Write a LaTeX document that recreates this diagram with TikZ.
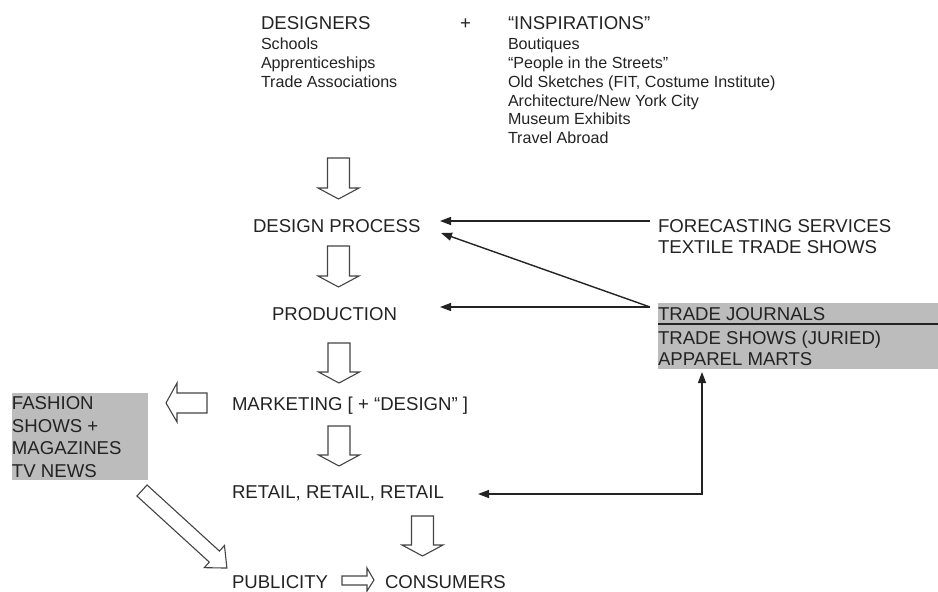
\documentclass[tikz,border=0pt]{standalone}
\usepackage{fontspec}
\setmainfont{Liberation Sans}
\usetikzlibrary{arrows.meta}
\definecolor{ink}{RGB}{35,35,35}
\definecolor{boxgray}{RGB}{188,188,188}
\newcommand{\blockdown}[4]{%
  \draw[blockarrow] (#1-11,#2) -- (#1+11,#2) -- (#1+11,#3) -- (#1+20.5,#3) -- (#1,#4) -- (#1-20.5,#3) -- (#1-11,#3) -- cycle;}
\tikzset{
  big/.style={font=\fontsize{18.6}{22}\selectfont, anchor=base west},
  small/.style={font=\fontsize{16.1}{18.8}\selectfont, anchor=base west},
  blockarrow/.style={draw=ink!85, line width=1.1pt, fill=white, line join=miter},
  conn/.style={draw=ink, line width=1.4pt, -{Triangle[length=11pt,width=8pt]}},
  graybox/.style={fill=boxgray, draw=none, anchor=north west},
}
\begin{document}
\begin{tikzpicture}[x=1pt,y=-1pt, every node/.style={inner sep=0pt, outer sep=0pt, text=ink}]
\useasboundingbox (0,0) rectangle (938,592);
% top lists
\node[big] (designers) at (261,29) {DESIGNERS};
\node[big] (plus) at (460,29) {+};
\node[big] (inspirations) at (508,29) {“INSPIRATIONS”};
\node[small] (schools) at (261,49) {Schools};
\node[small] (appr) at (261,68) {Apprenticeships};
\node[small] (tradeassoc) at (261,87) {Trade Associations};
\node[small] (boutiques) at (508,49) {Boutiques};
\node[small] (people) at (508,68) {“People in the Streets”};
\node[small] (sketches) at (508,87) {Old Sketches (FIT, Costume Institute)};
\node[small] (arch) at (508,106) {Architecture/New York City};
\node[small] (museum) at (508,124) {Museum Exhibits};
\node[small] (travel) at (508,143) {Travel Abroad};
% main column
\node[big] (design) at (253,232) {DESIGN PROCESS};
\node[big] (production) at (272,320) {PRODUCTION};
\node[big] (marketing) at (232,410) {MARKETING [ + “DESIGN” ]};
\node[big] (retail) at (232,498) {RETAIL, RETAIL, RETAIL};
\node[big] (publicity) at (232,588) {PUBLICITY};
\node[big] (consumers) at (385,588) {CONSUMERS};
% right side
\node[big] (forecast) at (658,232) {FORECASTING SERVICES};
\node[big] (textile) at (658,253) {TEXTILE TRADE SHOWS};
\node[graybox, minimum width=280pt, minimum height=66pt] (tradebox) at (658,303) {};
\draw[ink, line width=1.4pt] (tradebox.north west |- 0,324) -- (tradebox.north east |- 0,324);
\node[big] (journals) at (658,320) {TRADE JOURNALS};
\node[big] (tshows) at (658,344) {TRADE SHOWS (JURIED)};
\node[big] (marts) at (658,365) {APPAREL MARTS};
% left box
\node[graybox, minimum width=136pt, minimum height=87pt] (fashionbox) at (12,393) {};
\node[big] (fashion) at (12,409) {FASHION};
\node[big] (shows) at (12,432) {SHOWS +};
\node[big] (magazines) at (12,454) {MAGAZINES};
\node[big] (tvnews) at (12,477) {TV NEWS};
% block arrows
\blockdown{338.5}{158}{188}{199}
\blockdown{338.5}{246}{276}{287}
\blockdown{339}{343}{372}{383}
\blockdown{339}{426}{455}{466}
\blockdown{422.5}{516}{545}{556}
\draw[blockarrow] (207,393) -- (207,413) -- (177,413) -- (177,422) -- (166,403) -- (177,383) -- (177,393) -- cycle;
\draw[blockarrow] (342,576) -- (367,576) -- (367,568) -- (374,580) -- (367,591) -- (367,585) -- (342,585) -- cycle;
\begin{scope}[shift={(142,490.5)}, rotate=-42.4]
\draw[blockarrow] (0,-7.5) -- (98,-7.5) -- (98,-15) -- (115,0) -- (98,15) -- (98,7.5) -- (0,7.5) -- cycle;
\end{scope}
% connectors
\coordinate (fcout) at (650,221);
\coordinate (dpin1) at (440,221);
\coordinate (tbout) at (650,307);
\coordinate (dpin2) at (441,233);
\coordinate (prin) at (440,307);
\coordinate (rtin) at (478,494);
\coordinate (corner) at (702,494);
\coordinate (tbin) at (702,372);
\draw[conn] (fcout) -- (dpin1);
\draw[conn] (tbout) -- (dpin2);
\draw[conn] (tbout) -- (prin);
\draw[conn, {Triangle[length=11pt,width=8pt]}-{Triangle[length=11pt,width=8pt]}] (rtin) -- (corner) -- (tbin);
\end{tikzpicture}
\end{document}
